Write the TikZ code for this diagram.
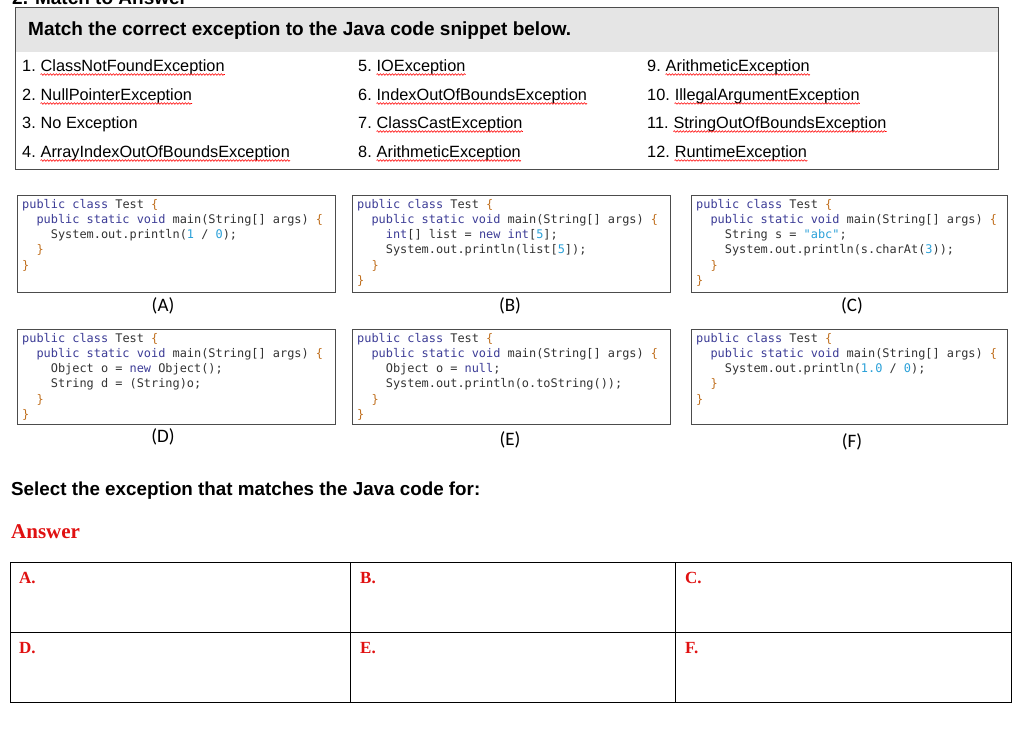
\documentclass[tikz,border=0pt]{standalone}
\usepackage{fontspec}
\setmainfont{Liberation Sans}
\newfontfamily\codefont{DejaVu Sans Mono}
\newfontfamily\labfont{Carlito}
\newfontfamily\serfont{Liberation Serif}
\usetikzlibrary{decorations.pathmorphing}
\definecolor{kwc}{HTML}{3C3C96}
\definecolor{brc}{HTML}{C07020}
\definecolor{nmc}{HTML}{2AA0D8}
\definecolor{txc}{HTML}{333333}
\definecolor{ansred}{HTML}{E01010}
\newcommand\kw[1]{\textcolor{kwc}{#1}}
\newcommand\br[1]{\textcolor{brc}{#1}}
\newcommand\nm[1]{\textcolor{nmc}{#1}}
\tikzset{
  item/.style={anchor=base west,inner sep=0pt,font=\fontsize{16.3}{18}\selectfont},
  spell/.style={draw=red,decorate,decoration={snake,amplitude=0.8pt,segment length=3pt},line width=0.6pt},
  codebox/.style={draw=black!70,line width=0.8pt},
  code/.style={anchor=north west,inner sep=0pt,align=left,text=txc,font=\codefont\fontsize{11.9}{15.2}\selectfont},
  lab/.style={anchor=center,inner sep=0pt,font=\labfont\fontsize{19}{20}\selectfont},
  ans/.style={anchor=base west,inner sep=0pt,text=ansred,font=\serfont\bfseries\fontsize{17}{20}\selectfont},
}
\newcommand\exitem[5]{%
  \node[item] (#1n) at (#2,#3) {#4};
  \node[item,anchor=base west] (#1w) at ([xshift=4.5pt]#1n.base east) {#5};
  \draw[spell] ([yshift=-2.5pt]#1w.base west) -- ([yshift=-2.5pt]#1w.base east);}
\newcommand\plainitem[5]{%
  \node[item] (#1n) at (#2,#3) {#4};
  \node[item,anchor=base west] (#1w) at ([xshift=4.5pt]#1n.base east) {#5};}
\begin{document}
\begin{tikzpicture}[x=1pt,y=-1pt]
\useasboundingbox (0,0) rectangle (1024,730);
\begin{scope}
\clip (0,0) rectangle (1024,730);
\node[anchor=base west,inner sep=0pt,font=\bfseries\fontsize{19}{20}\selectfont] (title) at (12,5) {2. Match to Answer};
\end{scope}
\fill[black!10] (15,7) rectangle (998,52);
\draw[codebox] (15,7) rectangle (998,169);
\node[anchor=base west,inner sep=0pt,font=\bfseries\fontsize{19}{20}\selectfont] (head) at (28,36) {Match the correct exception to the Java code snippet below.};
\exitem{i1}{22}{72}{1.}{ClassNotFoundException}
\exitem{i2}{22}{101}{2.}{NullPointerException}
\plainitem{i3}{22}{129}{3.}{No Exception}
\exitem{i4}{22}{158}{4.}{ArrayIndexOutOfBoundsException}
\exitem{i5}{358}{72}{5.}{IOException}
\exitem{i6}{358}{101}{6.}{IndexOutOfBoundsException}
\exitem{i7}{358}{129}{7.}{ClassCastException}
\exitem{i8}{358}{158}{8.}{ArithmeticException}
\exitem{i9}{647}{72}{9.}{ArithmeticException}
\exitem{i10}{647}{101}{10.}{IllegalArgumentException}
\exitem{i11}{647}{129}{11.}{StringOutOfBoundsException}
\exitem{i12}{647}{158}{12.}{RuntimeException}
% code boxes
\draw[codebox] (17,195) rectangle (335,292);
\draw[codebox] (352,195) rectangle (670,292);
\draw[codebox] (691,195) rectangle (1007,292);
\draw[codebox] (17,329) rectangle (335,424);
\draw[codebox] (352,329) rectangle (670,424);
\draw[codebox] (691,329) rectangle (1007,424);
\node[code] (ca) at (22,199) {\kw{public class} Test \br{\{}\\
\ \ \kw{public static void} main(String[] args) \br{\{}\\
\ \ \ \ System.out.println(\nm{1} / \nm{0});\\
\ \ \br{\}}\\
\br{\}}};
\node[code] (cb) at (357,199) {\kw{public class} Test \br{\{}\\
\ \ \kw{public static void} main(String[] args) \br{\{}\\
\ \ \ \ \kw{int}[] list = \kw{new int}[\nm{5}];\\
\ \ \ \ System.out.println(list[\nm{5}]);\\
\ \ \br{\}}\\
\br{\}}};
\node[code] (cc) at (696,199) {\kw{public class} Test \br{\{}\\
\ \ \kw{public static void} main(String[] args) \br{\{}\\
\ \ \ \ String s = \nm{"abc"};\\
\ \ \ \ System.out.println(s.charAt(\nm{3}));\\
\ \ \br{\}}\\
\br{\}}};
\node[code] (cd) at (22,333) {\kw{public class} Test \br{\{}\\
\ \ \kw{public static void} main(String[] args) \br{\{}\\
\ \ \ \ Object o = \kw{new} Object();\\
\ \ \ \ String d = (String)o;\\
\ \ \br{\}}\\
\br{\}}};
\node[code] (ce) at (357,333) {\kw{public class} Test \br{\{}\\
\ \ \kw{public static void} main(String[] args) \br{\{}\\
\ \ \ \ Object o = \kw{null};\\
\ \ \ \ System.out.println(o.toString());\\
\ \ \br{\}}\\
\br{\}}};
\node[code] (cf) at (696,333) {\kw{public class} Test \br{\{}\\
\ \ \kw{public static void} main(String[] args) \br{\{}\\
\ \ \ \ System.out.println(\nm{1.0} / \nm{0});\\
\ \ \br{\}}\\
\br{\}}};
\node[lab] (la) at (163,306) {(A)};
\node[lab] (lb) at (510,306) {(B)};
\node[lab] (lc) at (852,306) {(C)};
\node[lab] (ld) at (163,437) {(D)};
\node[lab] (le) at (510,440) {(E)};
\node[lab] (lf) at (852,442) {(F)};
\node[anchor=base west,inner sep=0pt,font=\bfseries\fontsize{18.8}{20}\selectfont] (sel) at (11,495) {Select the exception that matches the Java code for:};
\node[anchor=base west,inner sep=0pt,text=ansred,font=\serfont\bfseries\fontsize{21}{22}\selectfont] (answer) at (11,538) {Answer};
% table
\draw[black,line width=0.8pt] (10,562) rectangle (1011,702);
\draw[black,line width=0.8pt] (10,632) -- (1011,632);
\draw[black,line width=0.8pt] (350,562) -- (350,702);
\draw[black,line width=0.8pt] (675,562) -- (675,702);
\node[ans] (aa) at (19,583) {A.};
\node[ans] (ab) at (360,583) {B.};
\node[ans] (ac) at (685,583) {C.};
\node[ans] (ad) at (19,653) {D.};
\node[ans] (ae) at (360,653) {E.};
\node[ans] (af) at (685,653) {F.};
\end{tikzpicture}
\end{document}
